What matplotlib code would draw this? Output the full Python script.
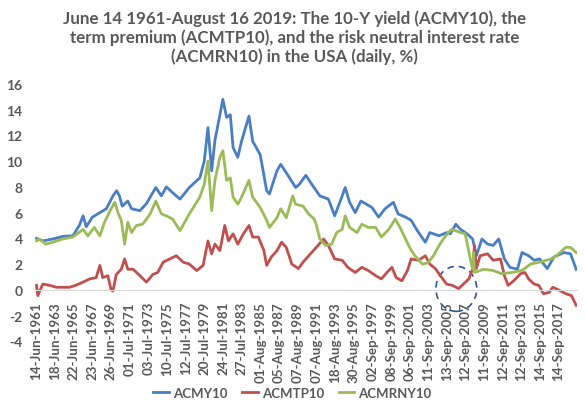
import matplotlib
matplotlib.use('Agg')
import matplotlib.pyplot as plt
from matplotlib.patches import Ellipse
import pandas as pd

# 10-Y yield (ACMY10)
acmy_years = [1961.45, 1962.13, 1963.2, 1964.26, 1965.37, 1966.07, 1966.47, 1966.81, 1967.48, 1968.28,
              1968.98, 1969.69, 1970.09, 1970.39, 1970.69, 1971.29, 1971.7, 1972.6, 1973.3, 1974.31,
              1974.91, 1975.45, 1976.12, 1976.92, 1977.92, 1979.05, 1979.53, 1979.93, 1980.33, 1980.68,
              1981.22, 1981.54, 1981.94, 1982.34, 1982.64, 1983.15, 1983.55, 1984.35, 1984.75, 1985.56,
              1986.26, 1986.56, 1987.37, 1987.77, 1988.37, 1989.38, 1989.78, 1990.48, 1991.12, 1991.99,
              1992.91, 1993.59, 1994.4, 1994.72, 1995.2, 1995.8, 1996.41, 1997.01, 1997.61, 1998.32,
              1999.02, 1999.92, 2000.42, 2001.23, 2001.83, 2002.63, 2003.36, 2003.84, 2004.84, 2005.65,
              2006.05, 2006.65, 2007.15, 2007.86, 2008.46, 2008.86, 2009.46, 2010.07, 2010.67, 2011.27,
              2011.88, 2012.48, 2013.28, 2013.78, 2014.49, 2015.09, 2015.69, 2016.5, 2017.22, 2018.3,
              2019.01, 2019.62]
acmy10 = [4.0, 3.8, 3.95, 4.15, 4.2, 5.0, 5.75, 4.9, 5.65, 6.0,
          6.3, 7.3, 7.7, 7.3, 6.5, 6.9, 6.3, 6.15, 6.7, 7.95,
          7.3, 8.0, 7.55, 7.05, 7.95, 8.7, 10.0, 12.6, 9.25, 11.6,
          13.6, 14.8, 13.4, 13.6, 11.05, 10.3, 11.55, 13.5, 11.55, 10.5,
          7.7, 7.45, 9.25, 9.75, 9.1, 7.95, 8.2, 8.9, 8.2, 7.3,
          7.05, 5.75, 7.3, 7.95, 6.8, 6.0, 6.9, 6.65, 6.4, 5.65,
          6.3, 6.8, 5.9, 5.65, 5.4, 4.45, 3.7, 4.45, 4.2, 4.45,
          4.35, 5.1, 4.7, 4.35, 3.95, 2.65, 3.95, 3.55, 3.45, 3.95,
          2.4, 1.75, 1.6, 2.9, 2.65, 2.3, 2.4, 1.65, 2.55, 2.9,
          2.8, 1.6]

# term premium (ACMTP10)
acmtp_years = [1961.45, 1961.59, 1962.13, 1962.86, 1963.58, 1964.26, 1965.0, 1965.67, 1966.47, 1967.18,
               1967.88, 1968.28, 1968.6, 1969.14, 1969.49, 1969.69, 1970.05, 1970.59, 1970.95, 1971.29,
               1971.86, 1972.6, 1973.3, 1974.0, 1974.51, 1975.11, 1975.81, 1976.52, 1977.26, 1977.92,
               1978.73, 1979.41, 1979.93, 1980.33, 1980.68, 1981.22, 1981.74, 1982.14, 1982.64, 1983.15,
               1983.75, 1984.35, 1984.75, 1985.36, 1985.96, 1986.26, 1986.76, 1987.37, 1987.87, 1988.37,
               1988.97, 1989.68, 1990.18, 1990.98, 1991.79, 1992.39, 1992.91, 1993.59, 1994.4, 1995.0,
               1995.8, 1996.51, 1997.21, 1998.01, 1998.62, 1999.22, 1999.76, 2000.22, 2000.83, 2001.43,
               2001.83, 2002.63, 2003.36, 2003.84, 2004.44, 2004.98, 2005.65, 2006.25, 2006.95, 2007.46,
               2008.06, 2008.46, 2008.66, 2008.86, 2009.26, 2010.07, 2010.67, 2011.47, 2011.88, 2012.28,
               2012.88, 2013.62, 2014.09, 2014.49, 2015.09, 2015.59, 2016.09, 2016.7, 2017.1, 2017.7,
               2018.5, 2019.11, 2019.62]
acmtp10 = [0.35, -0.45, 0.45, 0.35, 0.2, 0.2, 0.2, 0.35, 0.6, 0.85,
           0.95, 1.9, 0.95, 1.1, 0.0, -0.1, 1.2, 1.6, 2.4, 1.6,
           1.6, 1.1, 0.6, 1.2, 1.35, 2.15, 2.4, 2.65, 2.15, 2.0,
           1.5, 1.9, 3.8, 2.8, 3.55, 3.05, 5.0, 3.8, 4.35, 3.55,
           4.35, 5.0, 4.1, 4.1, 3.05, 1.9, 2.55, 3.05, 3.7, 3.3,
           2.0, 1.65, 2.15, 2.8, 3.45, 3.95, 3.45, 2.4, 2.3, 1.75,
           1.35, 1.75, 1.5, 1.1, 0.85, 1.35, 1.75, 0.95, 0.7, 1.5,
           2.4, 2.3, 2.65, 2.0, 1.65, 1.1, 0.45, 0.35, 0.1, 0.45,
           0.85, 1.65, 3.45, 1.65, 2.65, 2.8, 2.3, 2.4, 1.1, 0.35,
           0.7, 1.25, 1.35, 0.85, 0.45, 0.35, -0.3, -0.2, 0.2, 0.0,
           -0.3, -0.45, -1.2]

# risk neutral rate (ACMRNY10)
acmrn_years = [1961.45, 1961.75, 1962.45, 1963.2, 1964.26, 1965.37, 1966.47, 1966.99, 1967.68, 1968.28,
               1968.78, 1969.49, 1969.89, 1970.23, 1970.59, 1970.95, 1971.29, 1971.7, 1972.22, 1972.9,
               1973.7, 1974.31, 1974.91, 1975.45, 1976.12, 1976.92, 1977.92, 1979.05, 1979.53, 1979.93,
               1980.33, 1980.68, 1981.22, 1981.54, 1981.94, 1982.34, 1982.64, 1983.15, 1983.55, 1984.35,
               1984.75, 1985.56, 1986.26, 1986.56, 1987.37, 1987.77, 1988.37, 1989.07, 1989.38, 1990.18,
               1990.78, 1991.38, 1991.59, 1991.99, 1992.59, 1993.27, 1993.8, 1994.4, 1994.72, 1995.2,
               1996.0, 1996.51, 1997.21, 1998.01, 1998.62, 1999.42, 2000.12, 2000.63, 2001.23, 2001.73,
               2002.23, 2003.04, 2003.64, 2004.24, 2004.84, 2005.45, 2006.05, 2006.25, 2007.15, 2007.66,
               2008.06, 2008.46, 2008.56, 2008.66, 2009.67, 2010.67, 2011.61, 2012.68, 2013.78, 2014.69,
               2015.69, 2016.9, 2017.5, 2018.5, 2019.01, 2019.62]
acmrny10 = [3.8, 3.95, 3.55, 3.7, 3.95, 4.1, 4.7, 4.2, 4.85, 4.2,
            5.25, 6.3, 6.8, 6.0, 5.4, 3.55, 5.25, 4.45, 5.0, 5.1,
            5.9, 6.9, 5.9, 5.75, 5.5, 4.6, 5.9, 7.2, 8.2, 10.0,
            6.15, 8.5, 10.3, 10.8, 8.5, 8.7, 7.2, 6.65, 7.2, 8.5,
            7.2, 6.4, 5.4, 4.85, 5.6, 6.3, 5.6, 7.3, 6.65, 6.5,
            5.9, 5.5, 5.1, 3.95, 3.45, 3.55, 4.45, 4.7, 5.75, 4.85,
            4.45, 5.1, 4.85, 4.85, 4.1, 4.7, 5.5, 4.85, 3.95, 3.2,
            2.65, 2.0, 2.1, 2.65, 3.45, 4.1, 4.6, 4.7, 4.45, 4.35,
            2.9, 1.6, 2.9, 1.35, 1.6, 1.5, 1.25, 1.35, 1.5, 2.0,
            2.15, 2.4, 2.65, 3.3, 3.3, 2.9]

tick_labels = ['14-Jun-1961', '18-Jun-1963', '22-Jun-1965', '23-Jun-1967', '26-Jun-1969',
               '01-Jul-1971', '03-Jul-1973', '10-Jul-1975', '12-Jul-1977', '20-Jul-1979',
               '24-Jul-1981', '27-Jul-1983', '01-Aug-1985', '05-Aug-1987', '07-Aug-1989',
               '07-Aug-1991', '18-Aug-1993', '30-Aug-1995', '02-Sep-1997', '08-Sep-1999',
               '06-Sep-2001', '11-Sep-2003', '13-Sep-2005', '12-Sep-2007', '11-Sep-2009',
               '12-Sep-2011', '12-Sep-2013', '14-Sep-2015', '14-Sep-2017']

title = ('June 14 1961-August 16 2019: The 10-Y yield (ACMY10), the\n'
         'term premium (ACMTP10), and the risk neutral interest rate\n'
         '(ACMRN10) in the USA (daily, %)')

# dates of the tick labels as decimal years
d = pd.to_datetime(tick_labels, format='%d-%b-%Y')
tick_pos = list(d.year + (d.dayofyear - 1) / 365.25)

plt.rcParams['font.family'] = ['Lato', 'DejaVu Sans']
grey = '#595959'

fig = plt.figure(figsize=(5.85, 4.10), dpi=100)
ax = fig.add_axes([0.06, 0.165, 0.927, 0.628])

ax.plot(acmy_years, acmy10, color='#4A7EC2', lw=2, label='ACMY10')
ax.plot(acmtp_years, acmtp10, color='#C0504D', lw=2, label='ACMTP10')
ax.plot(acmrn_years, acmrny10, color='#9BBB59', lw=2, label='ACMRNY10')

# dashed circle around 2005-2007
ax.add_patch(Ellipse((2006.7, 0.08), 4.4, 3.5, fill=False, ls=(0, (4, 3)),
                     lw=1.2, color='#2F5597'))

ax.set_xlim(1961.3, 2019.75)
ax.set_ylim(-4, 16)
for s in ['top', 'right', 'left']:
    ax.spines[s].set_visible(False)
ax.spines['bottom'].set_position(('data', 0))
ax.spines['bottom'].set_color('#D9D9D9')
ax.tick_params(axis='both', length=0, labelcolor=grey)
ax.tick_params(axis='x', pad=8, labelrotation=90, labelsize=9.6)
ax.tick_params(axis='y', pad=9, labelsize=10)

ax.set_yticks(range(-4, 17, 2))
ax.set_xticks(tick_pos)
ax.set_xticklabels(tick_labels, fontweight='bold')
ax.set_yticklabels([str(v) for v in range(-4, 17, 2)], fontweight='bold')

fig.text(0.503, 0.975, title, ha='center', va='top', fontsize=12.2, fontweight='bold',
         color=grey, linespacing=1.17)

fig.legend(loc='center', bbox_to_anchor=(0.5, 1 - 394 / 410), ncol=3, frameon=False,
           handlelength=1.2, columnspacing=1.1, handletextpad=0.3,
           prop={'size': 9.5, 'weight': 'bold'}, labelcolor=grey)

fig.savefig('out.png', dpi=100)
